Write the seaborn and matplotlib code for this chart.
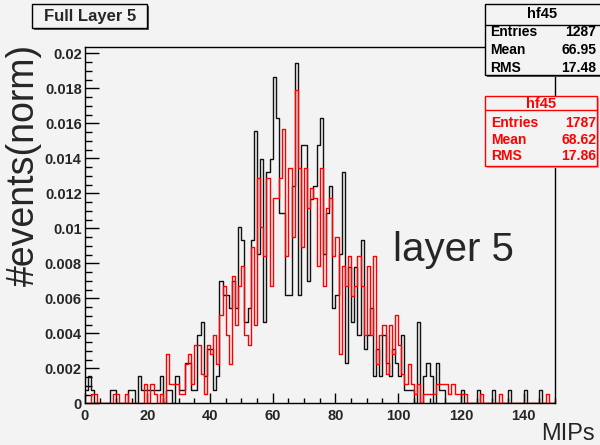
import numpy as np
import matplotlib
matplotlib.use("Agg")
import matplotlib.pyplot as plt
import seaborn as sns
from matplotlib.patches import Rectangle
from matplotlib.lines import Line2D
from matplotlib.ticker import FixedLocator, MultipleLocator

# ---------------- data (counts per 1-MIP bin) ----------------
bin_lo, bin_hi, n_bins = 0, 150, 150

black_counts = [
    1, 2, 1, 0, 0, 0, 0, 0, 1, 1,
    0, 0, 0, 0, 1, 1, 0, 2, 1, 1,
    1, 1, 1, 1, 2, 0, 1, 1, 0, 2,
    1, 1, 3, 3, 1, 1, 5, 6, 2, 4,
    4, 1, 2, 9, 8, 8, 7, 9, 7, 13,
    12, 6, 7, 12, 20, 11, 18, 6, 17, 18,
    24, 21, 14, 14, 8, 8, 16, 25, 8, 19,
    19, 9, 15, 16, 19, 21, 11, 14, 16, 7,
    8, 11, 17, 3, 10, 6, 10, 5, 12, 4,
    5, 7, 2, 4, 2, 5, 3, 2, 4, 3,
    2, 5, 1, 1, 1, 0, 6, 0, 2, 3,
    2, 0, 3, 1, 1, 0, 0, 0, 0, 0,
    1, 0, 0, 0, 0, 1, 0, 0, 0, 0,
    1, 0, 0, 0, 0, 1, 0, 0, 0, 0,
    1, 0, 0, 0, 0, 1, 0, 0, 0, 0,
]
red_counts = [
    0, 0, 1, 1, 0, 0, 0, 0, 0, 1,
    1, 0, 0, 1, 0, 0, 0, 0, 0, 2,
    0, 2, 1, 0, 1, 0, 5, 2, 2, 2,
    1, 1, 4, 5, 2, 6, 6, 3, 1, 6,
    5, 7, 4, 9, 12, 7, 4, 13, 8, 12,
    14, 7, 6, 16, 8, 23, 18, 15, 23, 12,
    21, 21, 23, 28, 15, 24, 17, 32, 24, 16,
    24, 20, 22, 21, 14, 24, 12, 20, 21, 15,
    17, 5, 14, 12, 15, 11, 12, 15, 12, 7,
    14, 7, 15, 4, 7, 8, 3, 8, 5, 9,
    6, 3, 2, 4, 2, 1, 2, 0, 1, 1,
    1, 1, 2, 2, 2, 2, 1, 2, 1, 1,
    1, 1, 0, 0, 0, 0, 1, 0, 0, 0,
    0, 0, 1, 0, 0, 0, 0, 0, 0, 0,
    0, 0, 0, 0, 0, 0, 0, 1, 0, 0,
]
black_entries = 1287
red_entries = 1787

hist_name = "hf45"
stat_names = ["Entries", "Mean", "RMS"]
black_stats = ["1287", "66.95", "17.48"]
red_stats = ["1787", "68.62", "17.86"]

x_ticks = [0, 20, 40, 60, 80, 100, 120, 140]
x_tick_labels = ["0", "20", "40", "60", "80", "100", "120", "140"]
y_ticks = [0, 0.002, 0.004, 0.006, 0.008, 0.01, 0.012, 0.014, 0.016, 0.018, 0.02]
y_tick_labels = ["0", "0.002", "0.004", "0.006", "0.008", "0.01", "0.012",
                 "0.014", "0.016", "0.018", "0.02"]

title_text = "Full Layer 5"
x_title = "MIPs"
y_title = "#events(norm)"
annotation = "layer 5"

# ---------------- style ----------------
W, H = 600, 445
BG = "#f3f3f3"
RED = "#ff0000"

sns.set_style("ticks")
plt.rcParams["font.family"] = ["Liberation Sans", "DejaVu Sans"]


def fx(px):
    return px / W


def fy(py):
    return 1 - py / H


fig = plt.figure(figsize=(W / 100, H / 100), dpi=100, facecolor=BG)
left, right, top, bottom = 84.5, 555.0, 46.7, 403.4
ax = fig.add_axes([fx(left), fy(bottom), fx(right - left), (bottom - top) / H])
ax.set_facecolor(BG)

centers = np.arange(bin_lo, bin_hi, (bin_hi - bin_lo) / n_bins) + 0.5
sns.histplot(x=centers, weights=np.array(black_counts) / black_entries,
             bins=n_bins, binrange=(bin_lo, bin_hi), element="step", fill=False,
             color="#111111", linewidth=1.0, ax=ax)
sns.histplot(x=centers, weights=np.array(red_counts) / red_entries,
             bins=n_bins, binrange=(bin_lo, bin_hi), element="step", fill=False,
             color=RED, linewidth=1.0, ax=ax)

ax.set_xlim(bin_lo, bin_hi)
ax.set_ylim(0, 0.02038)
ax.set_xlabel("")
ax.set_ylabel("")

ax.xaxis.set_major_locator(FixedLocator(x_ticks))
ax.set_xticklabels(x_tick_labels)
ax.xaxis.set_minor_locator(MultipleLocator(5))
ax.yaxis.set_major_locator(FixedLocator(y_ticks))
ax.set_yticklabels(y_tick_labels)
ax.yaxis.set_minor_locator(MultipleLocator(0.0005))

ax.tick_params(which="both", direction="in", top=False, right=False, color="black")
ax.tick_params(axis="y", which="major", length=10, width=1.0, pad=2, labelsize=10.5)
ax.tick_params(axis="y", which="minor", length=5, width=1.0)
ax.tick_params(axis="x", which="major", length=7.2, width=1.0, pad=4, labelsize=10.5)
ax.tick_params(axis="x", which="minor", length=3.6, width=1.0)
for lbl in ax.get_xticklabels() + ax.get_yticklabels():
    lbl.set_fontweight("bold")
for sp in ax.spines.values():
    sp.set_color("black")
    sp.set_linewidth(1.0)

# axis titles and annotation
fig.text(fx(24), fy(44), y_title, rotation=90, ha="center", va="top", fontsize=27)
fig.text(fx(541), fy(440), x_title, ha="left", va="baseline", fontsize=17)
fig.text(fx(393), fy(261), annotation, ha="left", va="baseline", fontsize=29)


def box(x0, y0, x1, y1, ec, shadow):
    fig.add_artist(Rectangle((fx(x0 + 2), fy(y1 + 2)), fx(x1 - x0), (y1 - y0) / H,
                             transform=fig.transFigure, facecolor=shadow,
                             edgecolor="none", zorder=5))
    fig.add_artist(Rectangle((fx(x0), fy(y1)), fx(x1 - x0), (y1 - y0) / H,
                             transform=fig.transFigure, facecolor=BG,
                             edgecolor=ec, linewidth=1.0, zorder=6))


def hline(x0, x1, y, color):
    fig.add_artist(Line2D([fx(x0), fx(x1)], [fy(y), fy(y)], transform=fig.transFigure,
                          color=color, linewidth=1.0, zorder=7))


# title box
box(32.3, 4.3, 147.3, 28.3, "black", "#555555")
fig.text(fx(89.8), fy(16.8), title_text, ha="center", va="center", fontsize=12,
         fontweight="bold", zorder=8)


# stat boxes
def stat_box(x0, y0, x1, y1, line_y, title_y, rows_y, values, color, shadow):
    box(x0, y0, x1, y1, color, shadow)
    hline(x0, x1, line_y, color)
    fig.text(fx((x0 + min(x1, 600)) / 2), fy(title_y), hist_name, ha="center",
             va="center", fontsize=10.5, fontweight="bold", color=color, zorder=8)
    for name, val, yy in zip(stat_names, values, rows_y):
        fig.text(fx(x0 + 6), fy(yy), name, ha="left", va="center", fontsize=10,
                 fontweight="bold", color=color, zorder=8)
        fig.text(fx(596), fy(yy), val, ha="right", va="center", fontsize=10,
                 fontweight="bold", color=color, zorder=8)


stat_box(484.5, 4.0, 602, 75.0, 25.0, 14.5, [32.5, 50.5, 68.5], black_stats,
         "black", "#555555")
stat_box(485.3, 96.0, 597.3, 165.7, 110.0, 104.0, [123.0, 139.5, 156.5], red_stats,
         RED, "#ff9a9a")

fig.savefig("out.png", dpi=100, facecolor=BG)
